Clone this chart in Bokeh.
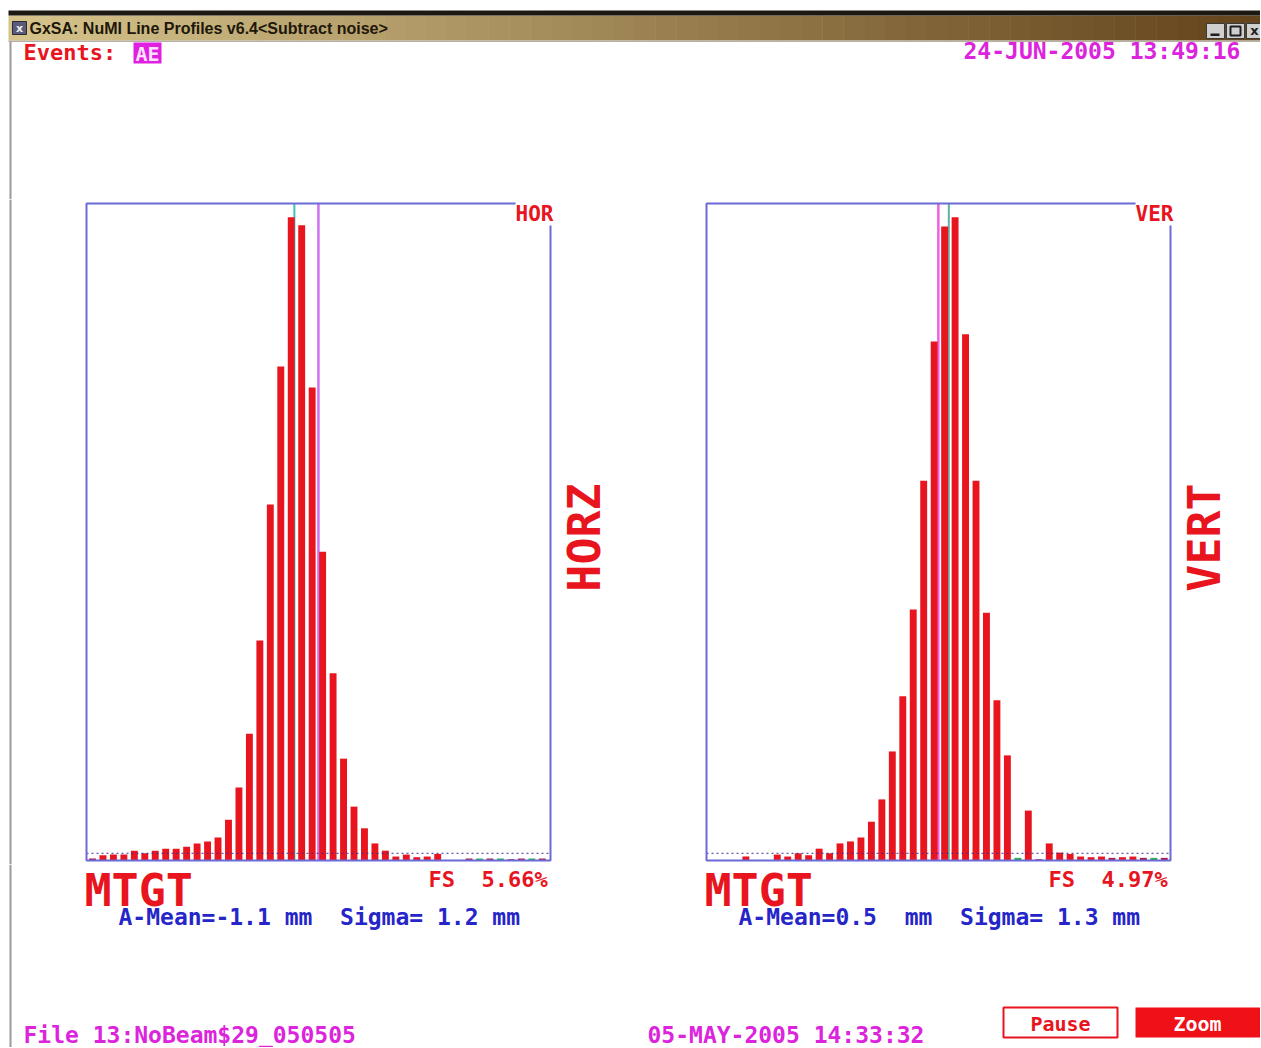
from bokeh.plotting import figure
from bokeh.layouts import column, row
from bokeh.models import Range1d, Label
from bokeh.embed import file_html
from bokeh.resources import INLINE
from bokeh.core.properties import value

# ---------------- data ----------------
channels = list(range(44))
hor_values = [0.3, 0.8, 0.9, 0.9, 1.5, 1.1, 1.5, 1.8, 1.8, 2.1, 2.6, 2.9, 3.5, 6.2,
              11.1, 19.3, 33.5, 54.2, 75.2, 97.9, 96.7, 72.0, 47.0, 28.5, 15.5, 8.2,
              4.9, 2.6, 1.5, 0.6, 0.9, 0.5, 0.6, 1.0, 0.0, 0.0, 0.3, -0.3, 0.3, -0.3,
              0.2, 0.3, -0.3, 0.3]
ver_values = [0.0, 0.0, 0.0, 0.6, 0.0, 0.0, 0.9, 0.6, 1.1, 0.8, 1.8, 1.1, 2.6, 2.9,
              3.5, 5.9, 9.3, 16.6, 25.0, 38.2, 57.8, 79.0, 96.5, 97.9, 80.1, 57.8,
              37.7, 24.4, 16.0, -0.4, 7.6, 0.2, 2.6, 1.2, 1.0, 0.6, 0.5, 0.6, 0.4,
              0.5, 0.6, 0.4, -0.4, 0.4]
hor_markers = [19.3, 21.6]          # cyan (peak), violet (mean)
ver_markers = [22.4, 21.4]          # cyan (peak), magenta (mean)
noise_level = 1.1
full_scale = 100.0

window_title = "GxSA: NuMI Line Profiles v6.4<Subtract noise>"
events_label = "Events:"
events_value = "AE"
now_stamp = "24-JUN-2005 13:49:16"
file_label = "File 13:NoBeam$29_050505"
file_stamp = "05-MAY-2005 14:33:32"
detector = "MTGT"
hor_tag, ver_tag = "HOR", "VER"
hor_title, ver_title = "HORZ", "VERT"
hor_fs = "FS  5.66%"
ver_fs = "FS  4.97%"
hor_stats = "A-Mean=-1.1 mm  Sigma= 1.2 mm"
ver_stats = "A-Mean=0.5  mm  Sigma= 1.3 mm"
buttons = ["Pause", "Zoom"]

# ---------------- style ----------------
MONO = "DejaVu Sans Mono"
RED = "#e8141e"
MAG = "#dc24dc"
BLUE = "#2626c8"
BORDER = "#6b6bd8"
GREEN = "#22b04a"
DARK = "#a8184c"
GRAY = "#9a9a9a"
W = 1260
H = 1047


def ref_fig(x0, x1, y0, y1):
    p = figure(width=x1 - x0, height=y1 - y0, x_range=Range1d(x0, x1),
               y_range=Range1d(-y1, -y0), x_axis_type=None, y_axis_type=None,
               toolbar_location=None, output_backend="svg", min_border=0)
    p.outline_line_color = None
    p.background_fill_color = "white"
    p.border_fill_color = "white"
    return p


def txt(p, x, y, s, size, color, align="left", bold=True, font=MONO, angle=0.0):
    s = s.replace("  ", "\u00a0\u00a0")
    p.text(x=[x], y=[-y], text=[s], text_font=value(font),
           text_font_size=f"{size}px", text_color=color, text_align=align,
           text_baseline="middle", text_font_style="bold" if bold else "normal",
           angle=angle)


PX = 10.46   # pixels per channel
PY = 6.57    # pixels per unit of full scale
PAD = 4


def panel(values, c0_px, left_px, right_px, markers, tag):
    x0 = (left_px - c0_px) / PX
    x1 = (right_px - c0_px) / PX
    p = figure(width=right_px - left_px + 2 * PAD, height=int(round(full_scale * PY)) + 2 * PAD,
               x_range=Range1d(x0 - PAD / PX, x1 + PAD / PX),
               y_range=Range1d(-PAD / PY, full_scale + PAD / PY),
               x_axis_type=None, y_axis_type=None, toolbar_location=None,
               output_backend="svg", min_border=0)
    p.outline_line_color = None
    p.background_fill_color = "white"
    p.border_fill_color = "white"
    # marker lines (behind bars)
    p.segment(x0=[markers[1]], y0=[0], x1=[markers[1]], y1=[full_scale],
              line_color="#d070f0" if tag == "HOR" else "#f060e0", line_width=2.5)
    p.segment(x0=[markers[0]], y0=[0], x1=[markers[0]], y1=[full_scale],
              line_color="#40c0c0" if tag == "HOR" else "#60b0a0", line_width=2)
    heights = [abs(v) for v in values]
    colors = [GREEN if v < 0 else (DARK if v < 0.5 else RED) for v in values]
    p.vbar(x=channels, top=heights, bottom=0, width=0.66, fill_color=colors, line_color=None)
    # noise baseline
    p.segment(x0=[x0], y0=[noise_level], x1=[x1], y1=[noise_level],
              line_color="#3030a0", line_width=1, line_dash="2 3")
    # frame
    p.line(x=[x1, x1, x0, x0, x1], y=[full_scale, 0, 0, full_scale, full_scale],
           line_color=BORDER, line_width=2)
    p.add_layout(Label(x=x1, y=full_scale, text=tag, text_align="right", text_baseline="top",
                       x_offset=3, y_offset=2, text_font=MONO, text_font_size="21px",
                       text_font_style="bold", text_color=RED,
                       background_fill_color="white"))
    return p


# ---------------- top strip ----------------
top = ref_fig(0, W, 0, 199)
txt(top, 963, 50, now_stamp, 23, MAG)
# title bar gradient
n = 60
c_left = (214, 196, 140)
c_right = (100, 68, 28)
lefts, rights, cols = [], [], []
for k in range(n):
    t = k / (n - 1)
    r = int(c_left[0] + (c_right[0] - c_left[0]) * t)
    g = int(c_left[1] + (c_right[1] - c_left[1]) * t)
    b = int(c_left[2] + (c_right[2] - c_left[2]) * t)
    lefts.append(8 + (W - 8) * k / n)
    rights.append(8 + (W - 8) * (k + 1) / n + 0.5)
    cols.append(f"#{r:02x}{g:02x}{b:02x}")
top.quad(left=lefts, right=rights, top=[-15] * n, bottom=[-40] * n, fill_color=cols, line_color=None)
top.quad(left=[8], right=[W], top=[-10], bottom=[-15], fill_color="#1c1812", line_color=None)
top.quad(left=[8], right=[W], top=[-40], bottom=[-41.5], fill_color="#b8b0a0", line_color=None)
# icon
top.quad(left=[12], right=[26], top=[-21], bottom=[-34], fill_color="#5a5a7a", line_color="#2a2a3a")
txt(top, 19, 27.5, "x", 11, "#f0f0f0", align="center", font="DejaVu Sans")
txt(top, 29, 28, window_title, 16, "#20170a", font="Liberation Sans")
# window buttons
top.quad(left=[1206, 1226, 1246], right=[1224, 1244, 1264], top=[-23] * 3, bottom=[-38] * 3,
         fill_color="#cfcfcf", line_color="#3a3a3a")
top.quad(left=[1210], right=[1219], top=[-33], bottom=[-35.5], fill_color="#202020", line_color=None)
top.quad(left=[1230], right=[1240], top=[-26], bottom=[-35], fill_color=None, line_color="#202020", line_width=2)
txt(top, 1254, 30, "x", 13, "#202020", align="center", font="DejaVu Sans")
# left window edge
top.segment(x0=[10], y0=[-41], x1=[10], y1=[-199], line_color=GRAY, line_width=2)
# Events
txt(top, 23, 52, events_label, 22, RED)
top.quad(left=[133], right=[161], top=[-42], bottom=[-63], fill_color="#e020e0", line_color=None)
txt(top, 147, 53, events_value, 20, "#ffe0ff", align="center")

# ---------------- middle row ----------------
s1 = ref_fig(0, 82, 199, 864)
s1.segment(x0=[10], y0=[-199], x1=[10], y1=[-864], line_color=GRAY, line_width=2)
pL = panel(hor_values, 92, 86, 550, hor_markers, hor_tag)
s2 = ref_fig(554, 702, 199, 864)
txt(s2, 584, 537, hor_title, 45, RED, align="center", angle=1.5708)
pR = panel(ver_values, 714, 706, 1170, ver_markers, ver_tag)
s3 = ref_fig(1174, W, 199, 864)
txt(s3, 1204, 537, ver_title, 45, RED, align="center", angle=1.5708)

# ---------------- bottom strip ----------------
bot = ref_fig(0, W, 864, H)
bot.segment(x0=[10], y0=[-864], x1=[10], y1=[-H], line_color=GRAY, line_width=2)
txt(bot, 84, 890, detector, 45, RED)
txt(bot, 704, 890, detector, 45, RED)
txt(bot, 428, 879, hor_fs, 22, RED)
txt(bot, 1048, 879, ver_fs, 22, RED)
txt(bot, 118, 916, hor_stats, 23, BLUE)
txt(bot, 738, 916, ver_stats, 23, BLUE)
txt(bot, 23, 1034, file_label, 23, MAG)
txt(bot, 647, 1034, file_stamp, 23, MAG)
bot.quad(left=[1003], right=[1117], top=[-1007], bottom=[-1037], fill_color="white",
         line_color=RED, line_width=2)
txt(bot, 1060, 1023, buttons[0], 20, RED, align="center")
bot.quad(left=[1135], right=[W + 2], top=[-1007], bottom=[-1037], fill_color="#f01018",
         line_color=None)
txt(bot, 1197, 1023, buttons[1], 20, "white", align="center")

layout = column(top, row(s1, pL, s2, pR, s3, spacing=0), bot, spacing=0)

with open("out.html", "w") as f:
    f.write(file_html(layout, INLINE))
